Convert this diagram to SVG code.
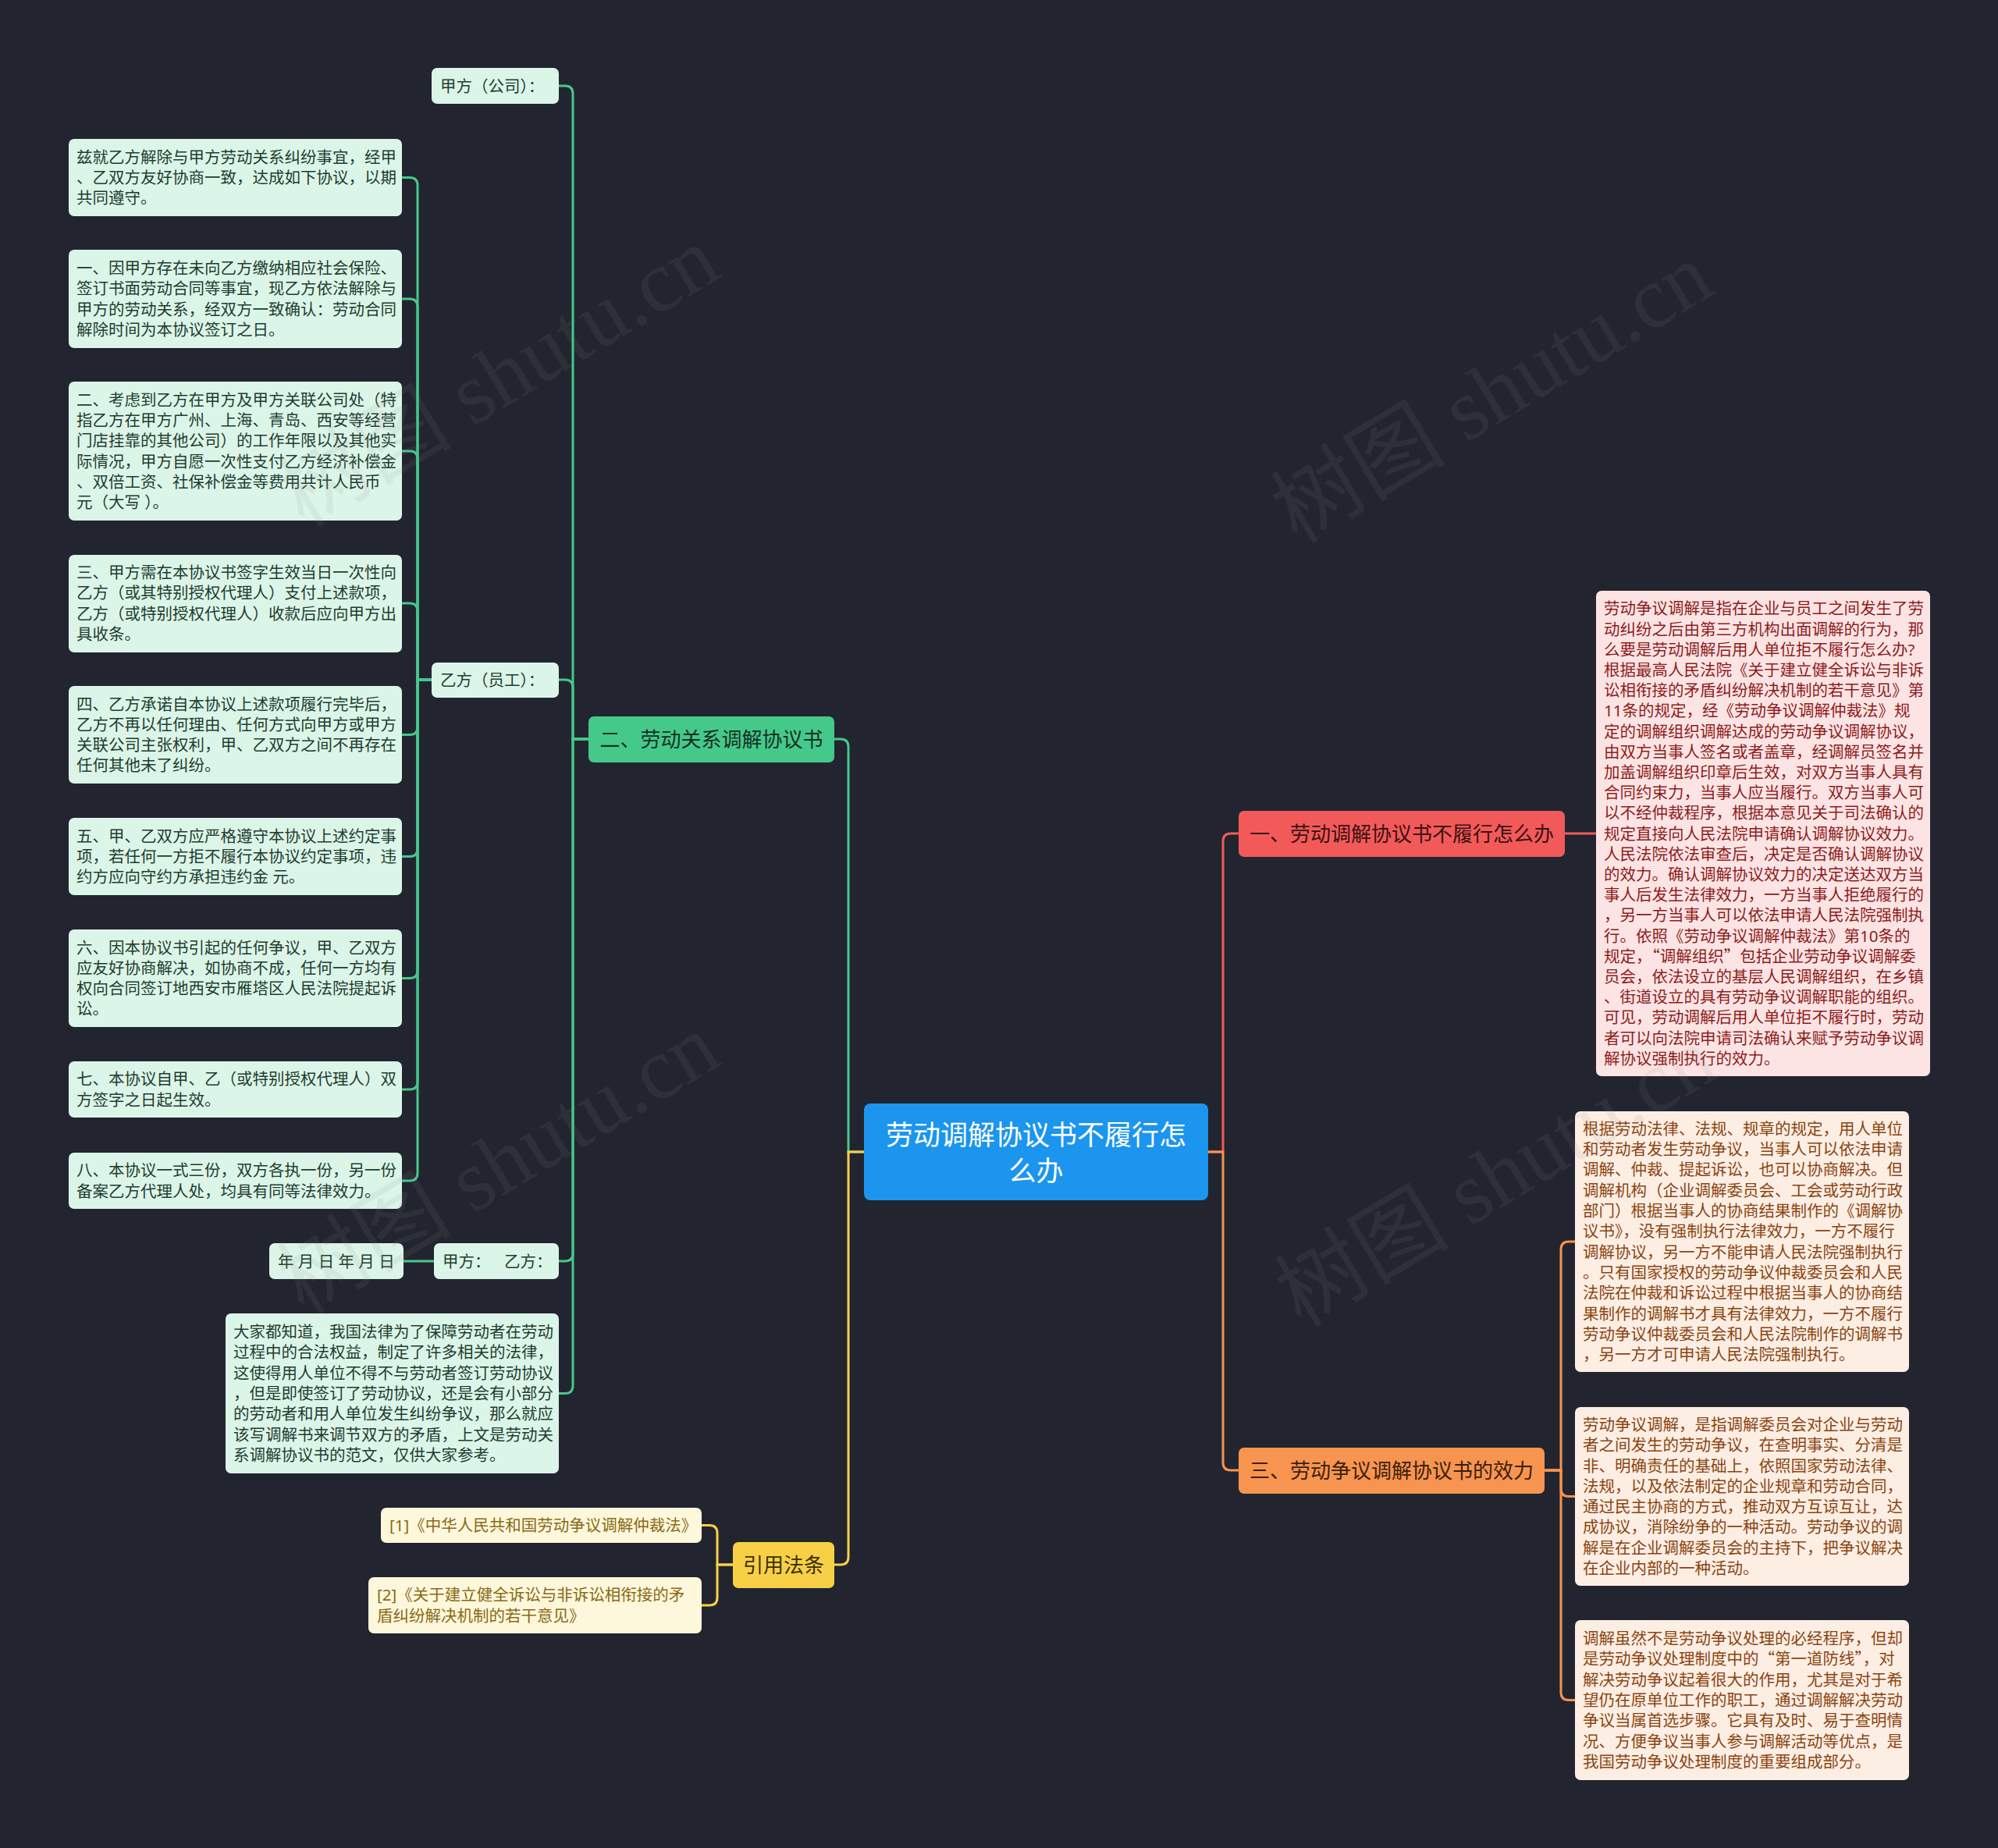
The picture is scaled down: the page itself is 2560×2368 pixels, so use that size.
<svg xmlns="http://www.w3.org/2000/svg" width="2560" height="2368" viewBox="0 0 2560 2368">
<style>
text { font-family: "Noto Sans", "Noto Sans CJK SC", sans-serif; }
.lf { font-size: 20.5px; }
.cjk { font-family: "Noto Sans CJK SC", sans-serif; }
.br { font-size: 26px; text-anchor: middle; }
.gbox { fill: #dcf5e9; }
.gtxt { fill: #1f3d2e; }
.rbox { fill: #fde4e4; }
.rtxt { fill: #8e1c1c; }
.obox { fill: #fdeee3; }
.otxt { fill: #8a4513; }
.ybox { fill: #fdf7dc; }
.ytxt { fill: #8a6a14; }
.cg { stroke: #45c98b; stroke-width: 3; fill: none; }
.cr { stroke: #f25a5a; stroke-width: 3; fill: none; }
.co { stroke: #f7944f; stroke-width: 3; fill: none; }
.cy { stroke: #f7d046; stroke-width: 3; fill: none; }
.wm { font-family: "Liberation Serif", "Noto Sans CJK SC", serif; font-size: 112px; fill: #8c8c8c; opacity: 0.11; }
</style>
<rect x="0" y="0" width="2560" height="2368" fill="#22252f"/>

<g id="connectors">
  <path class="cg" d="M1107,1476 H1087 V957 Q1087,947 1077,947 H1069"/>
  <path class="cy" d="M1107,1476 H1087 V1995 Q1087,2005 1077,2005 H1069"/>
  <path class="cr" d="M1548,1476 H1567 V1078 Q1567,1068 1577,1068 H1587"/>
  <path class="co" d="M1548,1476 H1567 V1874 Q1567,1884 1577,1884 H1587"/>
  <path class="cg" d="M754,947 H734 V120 Q734,110 724,110 H716"/>
  <path class="cg" d="M754,947 H734 V881 Q734,871 724,871 H716"/>
  <path class="cg" d="M754,947 H734 V1606 Q734,1616 724,1616 H716"/>
  <path class="cg" d="M754,947 H734 V1775.5 Q734,1785.5 724,1785.5 H716"/>
  <path class="cg" d="M555,871 H535 V237.5 Q535,227.5 525,227.5 H515"/>
  <path class="cg" d="M555,871 H535 V393 Q535,383 525,383 H515"/>
  <path class="cg" d="M555,871 H535 V588 Q535,578 525,578 H515"/>
  <path class="cg" d="M555,871 H535 V783 Q535,773 525,773 H515"/>
  <path class="cg" d="M555,871 H535 V931.5 Q535,941.5 525,941.5 H515"/>
  <path class="cg" d="M555,871 H535 V1087.5 Q535,1097.5 525,1097.5 H515"/>
  <path class="cg" d="M555,871 H535 V1243.5 Q535,1253.5 525,1253.5 H515"/>
  <path class="cg" d="M555,871 H535 V1386 Q535,1396 525,1396 H515"/>
  <path class="cg" d="M555,871 H535 V1503 Q535,1513 525,1513 H515"/>
  <path class="cg" d="M556,1616 H517"/>
  <path class="cr" d="M2005,1068 H2045"/>
  <path class="co" d="M1979,1884 H2000 V1601 Q2000,1591 2010,1591 H2018"/>
  <path class="co" d="M1979,1884 H2000 V1907.5 Q2000,1917.5 2010,1917.5 H2018"/>
  <path class="co" d="M1979,1884 H2000 V2168.5 Q2000,2178.5 2010,2178.5 H2018"/>
  <path class="cy" d="M939,2005 H919 V1964.5 Q919,1954.5 909,1954.5 H899"/>
  <path class="cy" d="M939,2005 H919 V2047 Q919,2057 909,2057 H899"/>
</g>

<g id="center">
  <rect x="1107" y="1414" width="441" height="124" rx="8" fill="#1b95ee"/>
  <text x="1327.5" y="1466.5" font-size="35" fill="#ffffff" text-anchor="middle">劳动调解协议书不履行怎</text>
  <text x="1327.5" y="1512.5" font-size="35" fill="#ffffff" text-anchor="middle">么办</text>
</g>

<g id="branch-green">
  <rect x="754" y="918" width="315" height="59" rx="7" fill="#45c98b"/>
  <text class="br" x="911.5" y="956.5" fill="#12301f">二、劳动关系调解协议书</text>
</g>
<g id="branch-red">
  <rect x="1587" y="1039" width="418" height="59" rx="7" fill="#f25a5a"/>
  <text class="br" x="1796" y="1077.5" fill="#3a1010">一、劳动调解协议书不履行怎么办</text>
</g>
<g id="branch-orange">
  <rect x="1587" y="1855" width="392" height="59" rx="7" fill="#f7944f"/>
  <text class="br" x="1783" y="1893.5" fill="#3a200c">三、劳动争议调解协议书的效力</text>
</g>
<g id="branch-yellow">
  <rect x="939" y="1976" width="130" height="59" rx="7" fill="#f7d046"/>
  <text class="br" x="1004" y="2014.5" fill="#3a2e05">引用法条</text>
</g>

<g id="n-jiafang">
  <rect class="gbox" x="553" y="87" width="163" height="46" rx="7"/>
  <text class="lf gtxt" x="564" y="117.5">甲方（公司）：</text>
</g>
<g id="n-yifang">
  <rect class="gbox" x="553" y="849" width="163" height="45" rx="7"/>
  <text class="lf gtxt" x="564" y="878.5">乙方（员工）：</text>
</g>
<g id="n-sign">
  <rect class="gbox" x="556" y="1593" width="160" height="46" rx="7"/>
  <text class="lf gtxt" x="567" y="1623.5">甲方：<tspan x="646">乙方：</tspan></text>
</g>
<g id="n-date">
  <rect class="gbox" x="345" y="1593" width="172" height="46" rx="7"/>
  <text class="lf gtxt" x="356" y="1623.5">年 月 日 年 月 日</text>
</g>

<g id="n-l0">
  <rect class="gbox" x="88" y="178" width="427" height="99" rx="7"/>
  <text class="lf gtxt" x="98" y="208.7"><tspan x="98">兹就乙方解除与甲方劳动关系纠纷事宜，经甲</tspan><tspan x="98" dy="26.3">、乙双方友好协商一致，达成如下协议，以期</tspan><tspan x="98" dy="26.3">共同遵守。</tspan></text>
</g>
<g id="n-l1">
  <rect class="gbox" x="88" y="320" width="427" height="126" rx="7"/>
  <text class="lf gtxt" x="98" y="351.05"><tspan x="98">一、因甲方存在未向乙方缴纳相应社会保险、</tspan><tspan x="98" dy="26.3">签订书面劳动合同等事宜，现乙方依法解除与</tspan><tspan x="98" dy="26.3">甲方的劳动关系，经双方一致确认：劳动合同</tspan><tspan x="98" dy="26.3">解除时间为本协议签订之日。</tspan></text>
</g>
<g id="n-l2">
  <rect class="gbox" x="88" y="489" width="427" height="178" rx="7"/>
  <text class="lf gtxt" x="98" y="519.75"><tspan x="98">二、考虑到乙方在甲方及甲方关联公司处（特</tspan><tspan x="98" dy="26.3">指乙方在甲方广州、上海、青岛、西安等经营</tspan><tspan x="98" dy="26.3">门店挂靠的其他公司）的工作年限以及其他实</tspan><tspan x="98" dy="26.3">际情况，甲方自愿一次性支付乙方经济补偿金</tspan><tspan x="98" dy="26.3">、双倍工资、社保补偿金等费用共计人民币</tspan><tspan x="98" dy="26.3">元（大写 ）。</tspan></text>
</g>
<g id="n-l3">
  <rect class="gbox" x="88" y="711" width="427" height="125" rx="7"/>
  <text class="lf gtxt" x="98" y="741.05"><tspan x="98">三、甲方需在本协议书签字生效当日一次性向</tspan><tspan x="98" dy="26.3">乙方（或其特别授权代理人）支付上述款项，</tspan><tspan x="98" dy="26.3">乙方（或特别授权代理人）收款后应向甲方出</tspan><tspan x="98" dy="26.3">具收条。</tspan></text>
</g>
<g id="n-l4">
  <rect class="gbox" x="88" y="879" width="427" height="125" rx="7"/>
  <text class="lf gtxt" x="98" y="909.55"><tspan x="98">四、乙方承诺自本协议上述款项履行完毕后，</tspan><tspan x="98" dy="26.3">乙方不再以任何理由、任何方式向甲方或甲方</tspan><tspan x="98" dy="26.3">关联公司主张权利，甲、乙双方之间不再存在</tspan><tspan x="98" dy="26.3">任何其他未了纠纷。</tspan></text>
</g>
<g id="n-l5">
  <rect class="gbox" x="88" y="1048" width="427" height="99" rx="7"/>
  <text class="lf gtxt" x="98" y="1078.7"><tspan x="98">五、甲、乙双方应严格遵守本协议上述约定事</tspan><tspan x="98" dy="26.3">项，若任何一方拒不履行本协议约定事项，违</tspan><tspan x="98" dy="26.3">约方应向守约方承担违约金 元。</tspan></text>
</g>
<g id="n-l6">
  <rect class="gbox" x="88" y="1191" width="427" height="125" rx="7"/>
  <text class="lf gtxt" x="98" y="1221.55"><tspan x="98">六、因本协议书引起的任何争议，甲、乙双方</tspan><tspan x="98" dy="26.3">应友好协商解决，如协商不成，任何一方均有</tspan><tspan x="98" dy="26.3">权向合同签订地西安市雁塔区人民法院提起诉</tspan><tspan x="98" dy="26.3">讼。</tspan></text>
</g>
<g id="n-l7">
  <rect class="gbox" x="88" y="1360" width="427" height="72" rx="7"/>
  <text class="lf gtxt" x="98" y="1390.35"><tspan x="98">七、本协议自甲、乙（或特别授权代理人）双</tspan><tspan x="98" dy="26.3">方签字之日起生效。</tspan></text>
</g>
<g id="n-l8">
  <rect class="gbox" x="88" y="1477" width="427" height="72" rx="7"/>
  <text class="lf gtxt" x="98" y="1507.35"><tspan x="98">八、本协议一式三份，双方各执一份，另一份</tspan><tspan x="98" dy="26.3">备案乙方代理人处，均具有同等法律效力。</tspan></text>
</g>
<g id="n-intro">
  <rect class="gbox" x="289" y="1683" width="427" height="205" rx="7"/>
  <text class="lf gtxt" x="299" y="1714.1"><tspan x="299">大家都知道，我国法律为了保障劳动者在劳动</tspan><tspan x="299" dy="26.3">过程中的合法权益，制定了许多相关的法律，</tspan><tspan x="299" dy="26.3">这使得用人单位不得不与劳动者签订劳动协议</tspan><tspan x="299" dy="26.3">，但是即使签订了劳动协议，还是会有小部分</tspan><tspan x="299" dy="26.3">的劳动者和用人单位发生纠纷争议，那么就应</tspan><tspan x="299" dy="26.3">该写调解书来调节双方的矛盾，上文是劳动关</tspan><tspan x="299" dy="26.3">系调解协议书的范文，仅供大家参考。</tspan></text>
</g>

<g id="n-ref1">
  <rect class="ybox" x="488" y="1932" width="411" height="45" rx="7"/>
  <text class="lf ytxt" x="499" y="1962">[1]《中华人民共和国劳动争议调解仲裁法》</text>
</g>
<g id="n-ref2">
  <rect class="ybox" x="472" y="2021" width="427" height="72" rx="7"/>
  <text class="lf ytxt" x="483" y="2051.35"><tspan x="483">[2]《关于建立健全诉讼与非诉讼相衔接的矛</tspan><tspan x="483" dy="26.3">盾纠纷解决机制的若干意见》</tspan></text>
</g>

<g id="n-red">
  <rect class="rbox" x="2045" y="757" width="428" height="622" rx="7"/>
  <text class="lf rtxt" x="2055" y="787.3"><tspan x="2055">劳动争议调解是指在企业与员工之间发生了劳</tspan><tspan x="2055" dy="26.2">动纠纷之后由第三方机构出面调解的行为，那</tspan><tspan x="2055" dy="26.2">么要是劳动调解后用人单位拒不履行怎么办?</tspan><tspan x="2055" dy="26.2">根据最高人民法院《关于建立健全诉讼与非诉</tspan><tspan x="2055" dy="26.2">讼相衔接的矛盾纠纷解决机制的若干意见》第</tspan><tspan x="2055" dy="26.2">11条的规定，经《劳动争议调解仲裁法》规</tspan><tspan x="2055" dy="26.2">定的调解组织调解达成的劳动争议调解协议，</tspan><tspan x="2055" dy="26.2">由双方当事人签名或者盖章，经调解员签名并</tspan><tspan x="2055" dy="26.2">加盖调解组织印章后生效，对双方当事人具有</tspan><tspan x="2055" dy="26.2">合同约束力，当事人应当履行。双方当事人可</tspan><tspan x="2055" dy="26.2">以不经仲裁程序，根据本意见关于司法确认的</tspan><tspan x="2055" dy="26.2">规定直接向人民法院申请确认调解协议效力。</tspan><tspan x="2055" dy="26.2">人民法院依法审查后，决定是否确认调解协议</tspan><tspan x="2055" dy="26.2">的效力。确认调解协议效力的决定送达双方当</tspan><tspan x="2055" dy="26.2">事人后发生法律效力，一方当事人拒绝履行的</tspan><tspan x="2055" dy="26.2">，另一方当事人可以依法申请人民法院强制执</tspan><tspan x="2055" dy="26.2">行。依照《劳动争议调解仲裁法》第10条的</tspan><tspan x="2055" dy="26.2">规定，<tspan class="cjk">“</tspan>调解组织<tspan class="cjk">”</tspan>包括企业劳动争议调解委</tspan><tspan x="2055" dy="26.2">员会，依法设立的基层人民调解组织，在乡镇</tspan><tspan x="2055" dy="26.2">、街道设立的具有劳动争议调解职能的组织。</tspan><tspan x="2055" dy="26.2">可见，劳动调解后用人单位拒不履行时，劳动</tspan><tspan x="2055" dy="26.2">者可以向法院申请司法确认来赋予劳动争议调</tspan><tspan x="2055" dy="26.2">解协议强制执行的效力。</tspan></text>
</g>

<g id="n-o1">
  <rect class="obox" x="2018" y="1424" width="428" height="334" rx="7"/>
  <text class="lf otxt" x="2028" y="1453.85"><tspan x="2028">根据劳动法律、法规、规章的规定，用人单位</tspan><tspan x="2028" dy="26.3">和劳动者发生劳动争议，当事人可以依法申请</tspan><tspan x="2028" dy="26.3">调解、仲裁、提起诉讼，也可以协商解决。但</tspan><tspan x="2028" dy="26.3">调解机构（企业调解委员会、工会或劳动行政</tspan><tspan x="2028" dy="26.3">部门）根据当事人的协商结果制作的《调解协</tspan><tspan x="2028" dy="26.3">议书》，没有强制执行法律效力，一方不履行</tspan><tspan x="2028" dy="26.3">调解协议，另一方不能申请人民法院强制执行</tspan><tspan x="2028" dy="26.3">。只有国家授权的劳动争议仲裁委员会和人民</tspan><tspan x="2028" dy="26.3">法院在仲裁和诉讼过程中根据当事人的协商结</tspan><tspan x="2028" dy="26.3">果制作的调解书才具有法律效力，一方不履行</tspan><tspan x="2028" dy="26.3">劳动争议仲裁委员会和人民法院制作的调解书</tspan><tspan x="2028" dy="26.3">，另一方才可申请人民法院强制执行。</tspan></text>
</g>
<g id="n-o2">
  <rect class="obox" x="2018" y="1803" width="428" height="229" rx="7"/>
  <text class="lf otxt" x="2028" y="1832.95"><tspan x="2028">劳动争议调解，是指调解委员会对企业与劳动</tspan><tspan x="2028" dy="26.3">者之间发生的劳动争议，在查明事实、分清是</tspan><tspan x="2028" dy="26.3">非、明确责任的基础上，依照国家劳动法律、</tspan><tspan x="2028" dy="26.3">法规，以及依法制定的企业规章和劳动合同，</tspan><tspan x="2028" dy="26.3">通过民主协商的方式，推动双方互谅互让，达</tspan><tspan x="2028" dy="26.3">成协议，消除纷争的一种活动。劳动争议的调</tspan><tspan x="2028" dy="26.3">解是在企业调解委员会的主持下，把争议解决</tspan><tspan x="2028" dy="26.3">在企业内部的一种活动。</tspan></text>
</g>
<g id="n-o3">
  <rect class="obox" x="2018" y="2076" width="428" height="205" rx="7"/>
  <text class="lf otxt" x="2028" y="2107.1"><tspan x="2028">调解虽然不是劳动争议处理的必经程序，但却</tspan><tspan x="2028" dy="26.3">是劳动争议处理制度中的<tspan class="cjk">“</tspan>第一道防线<tspan class="cjk">”</tspan>，对</tspan><tspan x="2028" dy="26.3">解决劳动争议起着很大的作用，尤其是对于希</tspan><tspan x="2028" dy="26.3">望仍在原单位工作的职工，通过调解解决劳动</tspan><tspan x="2028" dy="26.3">争议当属首选步骤。它具有及时、易于查明情</tspan><tspan x="2028" dy="26.3">况、方便争议当事人参与调解活动等优点，是</tspan><tspan x="2028" dy="26.3">我国劳动争议处理制度的重要组成部分。</tspan></text>
</g>

<g id="watermark">
  <text class="wm" x="645" y="493" text-anchor="middle" dominant-baseline="middle" transform="rotate(-31 645 493)">树图 shutu.cn</text>
  <text class="wm" x="1918" y="514" text-anchor="middle" dominant-baseline="middle" transform="rotate(-31 1918 514)">树图 shutu.cn</text>
  <text class="wm" x="645" y="1502" text-anchor="middle" dominant-baseline="middle" transform="rotate(-31 645 1502)">树图 shutu.cn</text>
  <text class="wm" x="1923" y="1518" text-anchor="middle" dominant-baseline="middle" transform="rotate(-31 1923 1518)">树图 shutu.cn</text>
</g>
</svg>
